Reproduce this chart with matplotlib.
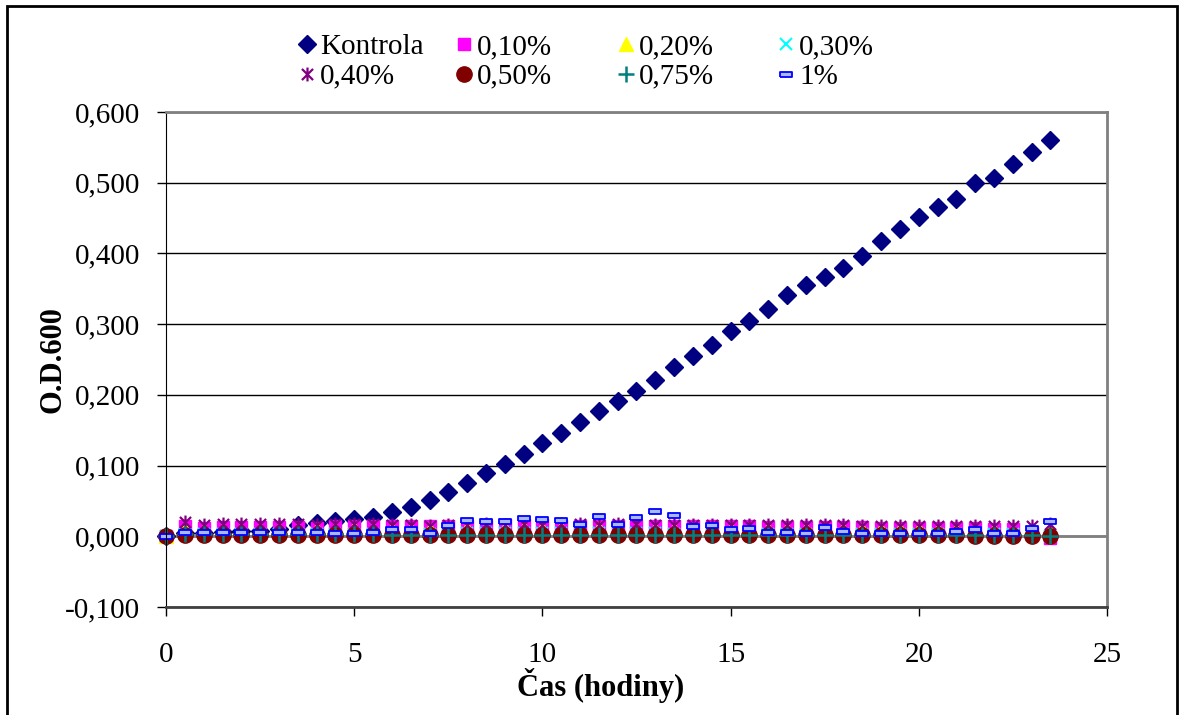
import numpy as np
import matplotlib
matplotlib.use("Agg")
import matplotlib.pyplot as plt
from matplotlib.path import Path
from matplotlib.patches import Rectangle

plt.rcParams['font.family'] = ['Liberation Serif', 'DejaVu Serif']

# time in hours, one reading every 30 minutes
cas = np.arange(0, 24, 0.5)

kontrola = [0.001, 0.004, 0.005, 0.006, 0.007, 0.008, 0.010, 0.016, 0.019, 0.022,
            0.025, 0.028, 0.035, 0.041, 0.052, 0.062, 0.075, 0.089, 0.102, 0.117,
            0.132, 0.146, 0.161, 0.177, 0.191, 0.206, 0.221, 0.239, 0.255, 0.270,
            0.290, 0.305, 0.322, 0.341, 0.356, 0.366, 0.379, 0.396, 0.417, 0.434,
            0.451, 0.465, 0.477, 0.499, 0.506, 0.526, 0.544, 0.560]
c010 = [0.000, 0.014, 0.012, 0.013, 0.013, 0.013, 0.013, 0.013, 0.012, 0.014,
        0.014, 0.015, 0.015, 0.015, 0.014, 0.015, 0.015, 0.015, 0.016, 0.016,
        0.016, 0.015, 0.015, 0.015, 0.015, 0.015, 0.015, 0.015, 0.014, 0.014,
        0.014, 0.014, 0.013, 0.013, 0.013, 0.013, 0.013, 0.013, 0.012, 0.012,
        0.012, 0.012, 0.012, 0.012, 0.011, 0.010, 0.004, -0.002]
c020 = [0.000, 0.010, 0.009, 0.010, 0.010, 0.010, 0.010, 0.011, 0.011, 0.011,
        0.012, 0.011, 0.011, 0.011, 0.011, 0.011, 0.012, 0.012, 0.012, 0.012,
        0.012, 0.012, 0.012, 0.012, 0.011, 0.011, 0.011, 0.011, 0.011, 0.011,
        0.011, 0.011, 0.010, 0.010, 0.010, 0.010, 0.010, 0.010, 0.010, 0.010,
        0.010, 0.009, 0.009, 0.009, 0.009, 0.008, 0.008, 0.007]
c030 = [0.000, 0.003, 0.003, 0.003, 0.003, 0.003, 0.003, 0.003, 0.003, 0.003,
        0.003, 0.003, 0.003, 0.003, 0.003, 0.003, 0.004, 0.004, 0.004, 0.004,
        0.004, 0.004, 0.004, 0.004, 0.004, 0.004, 0.004, 0.003, 0.003, 0.003,
        0.003, 0.003, 0.003, 0.003, 0.003, 0.003, 0.003, 0.003, 0.003, 0.003,
        0.003, 0.003, 0.003, 0.003, 0.003, 0.003, 0.002, 0.001]
c040 = [0.000, 0.020, 0.016, 0.018, 0.017, 0.017, 0.017, 0.017, 0.016, 0.018,
        0.017, 0.017, 0.016, 0.016, 0.015, 0.016, 0.016, 0.017, 0.016, 0.017,
        0.016, 0.017, 0.017, 0.016, 0.017, 0.017, 0.016, 0.016, 0.016, 0.016,
        0.016, 0.016, 0.016, 0.016, 0.016, 0.016, 0.016, 0.015, 0.015, 0.015,
        0.015, 0.015, 0.015, 0.015, 0.014, 0.015, 0.015, 0.017]
c050 = [0.000, 0.002, 0.002, 0.002, 0.002, 0.002, 0.002, 0.002, 0.002, 0.002,
        0.002, 0.002, 0.002, 0.002, 0.002, 0.002, 0.002, 0.002, 0.002, 0.002,
        0.002, 0.002, 0.002, 0.002, 0.002, 0.002, 0.002, 0.002, 0.002, 0.002,
        0.002, 0.002, 0.002, 0.002, 0.002, 0.002, 0.002, 0.002, 0.002, 0.002,
        0.002, 0.002, 0.002, 0.001, 0.001, 0.001, 0.001, 0.000]
c075 = [0.000, 0.003, 0.003, 0.003, 0.003, 0.003, 0.003, 0.003, 0.003, 0.003,
        0.003, 0.003, 0.002, 0.002, 0.002, 0.002, 0.002, 0.002, 0.002, 0.002,
        0.002, 0.002, 0.002, 0.002, 0.002, 0.002, 0.002, 0.002, 0.002, 0.002,
        0.002, 0.002, 0.002, 0.002, 0.002, 0.002, 0.002, 0.002, 0.002, 0.002,
        0.002, 0.002, 0.002, 0.002, 0.002, 0.002, 0.002, 0.001]
c1 = [0.001, 0.006, 0.006, 0.006, 0.006, 0.006, 0.006, 0.006, 0.006, 0.005,
      0.005, 0.006, 0.010, 0.010, 0.005, 0.016, 0.023, 0.021, 0.021, 0.026,
      0.025, 0.023, 0.017, 0.029, 0.018, 0.027, 0.036, 0.030, 0.015, 0.016,
      0.011, 0.012, 0.006, 0.006, 0.005, 0.013, 0.008, 0.004, 0.004, 0.004,
      0.004, 0.005, 0.007, 0.010, 0.004, 0.004, 0.012, 0.022]

labels = ["Kontrola", "0,10%", "0,20%", "0,30%", "0,40%", "0,50%", "0,75%", "1%"]
y_ticks = [-0.1, 0.0, 0.1, 0.2, 0.3, 0.4, 0.5, 0.6]
x_ticks = [0, 5, 10, 15, 20, 25]

# Excel style markers
star = Path([(0, -1), (0, 1), (-0.8, -0.8), (0.8, 0.8), (-0.8, 0.8), (0.8, -0.8)],
            [Path.MOVETO, Path.LINETO] * 3)
dash = [(-1, -0.45), (1, -0.45), (1, 0.45), (-1, 0.45), (-1, -0.45)]

styles = [
    dict(marker="D", ms=9, color="#000080"),
    dict(marker="s", ms=9, color="#FF00FF"),
    dict(marker="^", ms=10, color="#FFFF00"),
    dict(marker="x", ms=9, color="#00FFFF", mew=1.5),
    dict(marker=star, ms=10, color="#800080", mew=1.6),
    dict(marker="o", ms=11, color="#800000"),
    dict(marker="+", ms=11, color="#008080", mew=1.8),
    dict(marker=dash, ms=8, color="#0000FF", mfc="#AAB8FF", mew=1.3),
]
series = [kontrola, c010, c020, c030, c040, c050, c075, c1]

fig = plt.figure(figsize=(11.81, 7.15), dpi=100)
ax = fig.add_axes([0.1406, 0.1510, 0.7967, 0.6924])

handles = []
for vals, st, lab in zip(series, styles, labels):
    h, = ax.plot(cas, vals, linestyle="none", label=lab, clip_on=False, **st)
    handles.append(h)

ax.set_xlim(0, 25)
ax.set_ylim(-0.1, 0.6)
ax.set_xticks(x_ticks)
ax.set_yticks(y_ticks)
ax.set_yticklabels([f"{v:.3f}".replace(".", ",") for v in y_ticks])
ax.tick_params(axis="both", labelsize=21, direction="out", length=6.5, width=1, color="black")
ax.tick_params(axis="y", pad=12)
ax.tick_params(axis="x", pad=19)

ax.grid(axis="y", color="black", linewidth=1)
ax.set_axisbelow(True)
ax.axhline(0, color="#808080", linewidth=2, zorder=1)

for side in ["top", "right"]:
    ax.spines[side].set_color("#808080")
    ax.spines[side].set_linewidth(2)
ax.spines["left"].set_color("black")
ax.spines["bottom"].set_color("#404040")
ax.spines["bottom"].set_linewidth(2)

ax.set_xlabel("Čas (hodiny)", fontsize=22, fontweight="bold")
ax.xaxis.set_label_coords(0.462, -0.124)
ax.set_ylabel("O.D.600", fontsize=22, fontweight="bold")
ax.yaxis.set_label_coords(-0.105, 0.5)

# legend: 4 columns, two rows, filled row by row
col_x = [0.2526, 0.3855, 0.5227, 0.6582]
for i, x in enumerate(col_x):
    fig.legend([handles[i], handles[i + 4]], [labels[i], labels[i + 4]],
               loc="upper left", bbox_to_anchor=(x, 0.9524), frameon=False,
               fontsize=21, handlelength=0.6, handletextpad=0.15,
               borderpad=0, borderaxespad=0, labelspacing=0.1)

# outer chart border
fig.patches.append(Rectangle((7 / 1181, -0.05), 1170 / 1181, 1.042, transform=fig.transFigure,
                             fill=False, edgecolor="black", linewidth=2))

fig.savefig("out.png", dpi=100)
